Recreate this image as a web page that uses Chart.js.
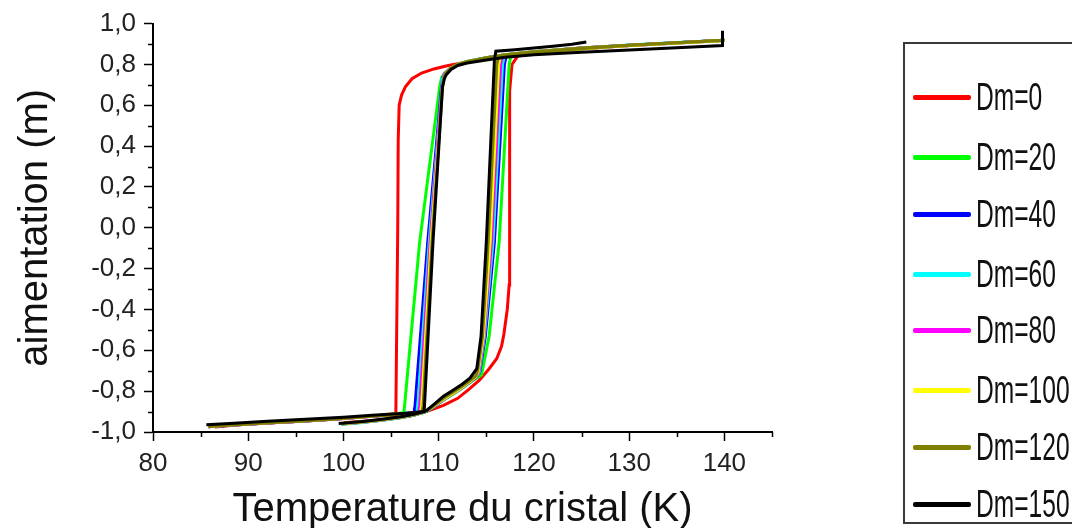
<!DOCTYPE html>
<html>
<head>
<meta charset="utf-8">
<script src="https://cdn.jsdelivr.net/npm/chart.js@4.4.1/dist/chart.umd.min.js"></script>
<style>
  html, body { margin: 0; padding: 0; background: #fff; }
  #wrap { position: relative; width: 1072px; height: 528px; overflow: hidden; }
  #c { position: absolute; left: 0; top: 0; }
  #legend { position: absolute; left: 903px; top: 42px; width: 200px; height: 482px;
            border: 2px solid #3a3a3a; box-sizing: border-box; }
  .item { position: absolute; left: 0; height: 40px; }
  .swatch { position: absolute; left: 8px; width: 58px; height: 5px; border-radius: 2px; }
  .lab { position: absolute; left: 71px; font-family: "Liberation Sans", Arial, sans-serif;
         font-size: 39px; line-height: 40px; color: #111; white-space: nowrap;
         transform: scaleX(0.63); transform-origin: 0 50%; }
</style>
</head>
<body>
<div id="wrap">
  <canvas id="c" width="1072" height="528"></canvas>
  <div id="legend"></div>
</div>
<script>
// ---- axis ticks ----
const xTicks = [80, 90, 100, 110, 120, 130, 140];
const xMinor = [85, 95, 105, 115, 125, 135, 145];
const yTicks = [-1.0, -0.8, -0.6, -0.4, -0.2, 0.0, 0.2, 0.4, 0.6, 0.8, 1.0];
const yMinor = [-0.9, -0.7, -0.5, -0.3, -0.1, 0.1, 0.3, 0.5, 0.7, 0.9];

// ---- series labels and colours ----
const labels = ['Dm=0', 'Dm=20', 'Dm=40', 'Dm=60', 'Dm=80', 'Dm=100', 'Dm=120', 'Dm=150'];
const colors = ['#ff0000', '#00ff00', '#0000ff', '#00ffff', '#ff00ff', '#ffff00', '#808000', '#000000'];

// ---- Dm=0 ----
const coolT0 = [140, 135, 130, 125, 120, 117, 115, 113, 111, 109.5, 108.2, 107.2, 106.5, 106.1, 105.85, 105.75, 105.7, 105.5, 103, 100, 96, 92, 89, 86.5];
const coolM0 = [0.918, 0.906, 0.894, 0.880, 0.862, 0.847, 0.833, 0.812, 0.795, 0.778, 0.758, 0.730, 0.690, 0.650, 0.600, 0.430, 0.000, -0.910, -0.922, -0.934, -0.946, -0.956, -0.965, -0.975];
const heatT0 = [100, 103, 105, 107, 109, 110.5, 112, 113.2, 114.3, 115.3, 116.1, 116.6, 116.85, 117.2, 117.4, 117.45, 117.7, 118.4, 120, 125, 130, 135, 140];
const heatM0 = [-0.955, -0.945, -0.935, -0.922, -0.895, -0.870, -0.835, -0.790, -0.745, -0.690, -0.640, -0.580, -0.520, -0.400, -0.280, 0.670, 0.800, 0.848, 0.857, 0.877, 0.893, 0.906, 0.918];

// ---- Dm=20 ----
const coolT20 = [140, 135, 130, 125, 120, 117, 115, 113, 112, 111.2, 110.6, 110.3, 110.1, 108.0, 106.4, 106.35, 105, 103, 100, 96, 92, 88.5, 85.8];
const coolM20 = [0.918, 0.906, 0.894, 0.880, 0.862, 0.847, 0.833, 0.815, 0.800, 0.780, 0.755, 0.735, 0.690, -0.070, -0.880, -0.905, -0.915, -0.922, -0.933, -0.945, -0.955, -0.965, -0.973];
const heatT20 = [99.8, 102, 104, 106, 107.5, 108.7, 109.5, 110.5, 111.5, 112.5, 113.3, 114.0, 114.5, 115.3, 116.35, 117.4, 117.6, 120, 125, 130, 135, 140];
const heatM20 = [-0.962, -0.953, -0.943, -0.930, -0.917, -0.900, -0.878, -0.845, -0.815, -0.785, -0.758, -0.735, -0.720, -0.530, -0.070, 0.800, 0.845, 0.858, 0.878, 0.894, 0.906, 0.918];

// ---- Dm=40 ----
const coolT40 = [140, 135, 130, 125, 120, 117, 115, 113, 112, 111.2, 110.6, 110.4, 110.3, 108.85, 107.5, 107.45, 105, 103, 100, 96, 92, 88.5, 85.8];
const coolM40 = [0.917, 0.905, 0.893, 0.879, 0.861, 0.846, 0.832, 0.814, 0.799, 0.779, 0.754, 0.735, 0.690, -0.070, -0.880, -0.905, -0.917, -0.923, -0.934, -0.946, -0.956, -0.966, -0.974];
const heatT40 = [99.8, 102, 104, 106, 107.5, 108.7, 109.5, 110.5, 111.5, 112.5, 113.3, 113.9, 114.3, 114.9, 115.85, 116.9, 117.1, 120, 125, 130, 135, 140];
const heatM40 = [-0.961, -0.952, -0.942, -0.929, -0.916, -0.899, -0.876, -0.842, -0.812, -0.782, -0.755, -0.732, -0.710, -0.530, -0.070, 0.800, 0.843, 0.857, 0.877, 0.893, 0.905, 0.917];

// ---- Dm=60 ----
const coolT60 = [140, 135, 130, 125, 120, 117, 115, 113, 112, 111.2, 110.6, 110.45, 110.35, 109.0, 107.8, 107.75, 105, 103, 100, 96, 92, 88.5, 85.8];
const coolM60 = [0.919, 0.907, 0.895, 0.881, 0.862, 0.847, 0.833, 0.815, 0.800, 0.780, 0.755, 0.735, 0.690, -0.070, -0.880, -0.905, -0.916, -0.922, -0.933, -0.945, -0.955, -0.965, -0.973];
const heatT60 = [99.8, 102, 104, 106, 107.5, 108.7, 109.5, 110.5, 111.5, 112.5, 113.3, 113.9, 114.25, 114.8, 115.7, 116.7, 116.9, 120, 125, 130, 135, 140];
const heatM60 = [-0.961, -0.952, -0.942, -0.929, -0.915, -0.898, -0.875, -0.842, -0.812, -0.782, -0.754, -0.731, -0.710, -0.530, -0.070, 0.800, 0.842, 0.858, 0.878, 0.894, 0.906, 0.919];

// ---- Dm=80 ----
const coolT80 = [140, 135, 130, 125, 120, 117, 115, 113, 112, 111.2, 110.6, 110.5, 110.35, 109.1, 108.0, 107.95, 105, 103, 100, 96, 92, 88.5, 85.8];
const coolM80 = [0.918, 0.906, 0.894, 0.880, 0.861, 0.846, 0.832, 0.814, 0.799, 0.779, 0.754, 0.735, 0.690, -0.070, -0.880, -0.905, -0.917, -0.923, -0.934, -0.946, -0.956, -0.966, -0.974];
const heatT80 = [99.8, 102, 104, 106, 107.5, 108.7, 109.5, 110.5, 111.5, 112.5, 113.3, 113.9, 114.2, 114.75, 115.55, 116.5, 116.7, 120, 125, 130, 135, 140];
const heatM80 = [-0.960, -0.951, -0.941, -0.928, -0.914, -0.897, -0.874, -0.841, -0.811, -0.781, -0.753, -0.730, -0.710, -0.530, -0.070, 0.800, 0.841, 0.857, 0.877, 0.893, 0.905, 0.918];

// ---- Dm=100 ----
const coolT100 = [140, 135, 130, 125, 120, 117, 115, 113, 112, 111.2, 110.7, 110.55, 110.4, 109.2, 108.2, 108.15, 105, 103, 100, 96, 92, 88.5, 85.8];
const coolM100 = [0.917, 0.905, 0.893, 0.879, 0.861, 0.846, 0.832, 0.814, 0.799, 0.779, 0.754, 0.735, 0.690, -0.070, -0.880, -0.905, -0.916, -0.922, -0.933, -0.945, -0.955, -0.965, -0.973];
const heatT100 = [99.8, 102, 104, 106, 107.5, 108.7, 109.5, 110.5, 111.5, 112.5, 113.3, 113.9, 114.15, 114.7, 115.4, 116.3, 116.5, 120, 125, 130, 135, 140];
const heatM100 = [-0.960, -0.951, -0.941, -0.928, -0.914, -0.897, -0.873, -0.840, -0.810, -0.780, -0.752, -0.729, -0.705, -0.530, -0.070, 0.800, 0.840, 0.856, 0.876, 0.893, 0.905, 0.917];

// ---- Dm=120 ----
const coolT120 = [140, 135, 130, 125, 120, 117, 115, 113, 112, 111.2, 110.7, 110.55, 110.4, 109.3, 108.35, 108.3, 105, 103, 100, 96, 92, 88.5, 85.8];
const coolM120 = [0.918, 0.906, 0.894, 0.880, 0.862, 0.847, 0.833, 0.815, 0.800, 0.780, 0.755, 0.735, 0.690, -0.070, -0.880, -0.905, -0.917, -0.923, -0.934, -0.946, -0.956, -0.966, -0.974];
const heatT120 = [99.8, 102, 104, 106, 107.5, 108.7, 109.5, 110.5, 111.5, 112.5, 113.3, 113.9, 114.1, 114.6, 115.2, 116.1, 116.3, 120, 125, 130, 135, 140];
const heatM120 = [-0.959, -0.950, -0.940, -0.927, -0.913, -0.896, -0.870, -0.835, -0.805, -0.775, -0.748, -0.725, -0.700, -0.530, -0.070, 0.800, 0.840, 0.857, 0.877, 0.894, 0.906, 0.918];

// ---- Dm=150 ----
const coolT150 = [139.8, 139.8, 135, 130, 125, 120, 117, 115, 113, 112, 111.3, 110.8, 110.6, 110.4, 109.4, 108.5, 108.45, 106, 103, 100, 96, 92, 88.5, 85.6];
const coolM150 = [0.965, 0.893, 0.882, 0.871, 0.860, 0.848, 0.835, 0.822, 0.807, 0.795, 0.775, 0.750, 0.730, 0.690, -0.070, -0.880, -0.900, -0.910, -0.918, -0.928, -0.938, -0.947, -0.957, -0.965];
const heatT150 = [99.5, 102, 104, 106, 107.5, 108.7, 109.5, 110.5, 111.5, 112.5, 113.3, 114.0, 114.45, 115.0, 115.85, 116.0, 118, 120, 122, 124, 125.5];
const heatM150 = [-0.958, -0.948, -0.938, -0.925, -0.912, -0.895, -0.865, -0.825, -0.795, -0.765, -0.735, -0.690, -0.530, -0.070, 0.820, 0.865, 0.872, 0.880, 0.889, 0.899, 0.910];

const coolT = [coolT0, coolT20, coolT40, coolT60, coolT80, coolT100, coolT120, coolT150];
const coolM = [coolM0, coolM20, coolM40, coolM60, coolM80, coolM100, coolM120, coolM150];
const heatT = [heatT0, heatT20, heatT40, heatT60, heatT80, heatT100, heatT120, heatT150];
const heatM = [heatM0, heatM20, heatM40, heatM60, heatM80, heatM100, heatM120, heatM150];

const FONT = '"Liberation Sans", Arial, sans-serif';

function pts(T, M) { return T.map((t, i) => ({ x: t, y: M[i] })); }

const datasets = [];
labels.forEach((lab, i) => {
  const common = {
    borderColor: colors[i], backgroundColor: colors[i], borderWidth: 3,
    pointRadius: 0, showLine: true, tension: 0, fill: false,
    order: labels.length - 1 - i
  };
  datasets.push(Object.assign({ label: lab, data: pts(coolT[i], coolM[i]) }, common));
  datasets.push(Object.assign({ label: lab + ' (heat)', data: pts(heatT[i], heatM[i]) }, common));
});

const fmtY = v => (Math.abs(v) < 1e-9 ? 0 : v).toFixed(1).replace('.', ',');

const minorTicks = {
  id: 'minorTicks',
  afterDraw(chart) {
    const ctx = chart.ctx, xs = chart.scales.x, ys = chart.scales.y;
    ctx.save();
    ctx.strokeStyle = '#000';
    ctx.lineWidth = 1.5;
    xMinor.forEach(v => {
      const px = Math.round(xs.getPixelForValue(v)) + 0.5;
      ctx.beginPath(); ctx.moveTo(px, ys.bottom); ctx.lineTo(px, ys.bottom + 5); ctx.stroke();
    });
    yMinor.forEach(v => {
      const py = Math.round(ys.getPixelForValue(v)) + 0.5;
      ctx.beginPath(); ctx.moveTo(xs.left, py); ctx.lineTo(xs.left - 5, py); ctx.stroke();
    });
    ctx.restore();
  }
};

new Chart(document.getElementById('c'), {
  type: 'scatter',
  data: { datasets },
  plugins: [minorTicks],
  options: {
    responsive: false,
    animation: false,
    layout: { padding: { left: 0, top: 21, right: 300, bottom: 0 } },
    plugins: { legend: { display: false }, tooltip: { enabled: false } },
    scales: {
      x: {
        type: 'linear', min: 80, max: 145,
        afterBuildTicks: s => { s.ticks = xTicks.map(v => ({ value: v })); },
        afterFit: s => { s.height = 96; },
        grid: { display: true, drawOnChartArea: false, drawTicks: true, tickLength: 9, tickColor: '#000', tickWidth: 1.5 },
        border: { display: true, color: '#000', width: 2 },
        ticks: { font: { family: FONT, size: 26 }, color: '#222', padding: 7, maxRotation: 0, autoSkip: false,
                 callback: v => String(v) },
        title: { display: true, text: 'Temperature du cristal (K)', color: '#111',
                 font: { family: FONT, size: 40 }, padding: { top: 0, bottom: -6 } }
      },
      y: {
        type: 'linear', min: -1, max: 1,
        afterBuildTicks: s => { s.ticks = yTicks.map(v => ({ value: v })); },
        afterFit: s => { s.width = 153; },
        grid: { display: true, drawOnChartArea: false, drawTicks: true, tickLength: 9, tickColor: '#000', tickWidth: 1.5 },
        border: { display: true, color: '#000', width: 2 },
        ticks: { font: { family: FONT, size: 26 }, color: '#222', padding: 8, autoSkip: false,
                 callback: v => fmtY(v) },
        title: { display: true, text: 'aimentation (m)', color: '#111',
                 font: { family: FONT, size: 40 }, padding: { top: 12, bottom: 0 } }
      }
    }
  }
});

// ---- HTML legend built from the same arrays ----
const legendCenters = [53, 113, 170, 230, 286, 346, 403, 460];
const lg = document.getElementById('legend');
labels.forEach((lab, i) => {
  const it = document.createElement('div');
  it.className = 'item';
  it.style.top = (legendCenters[i] - 20) + 'px';
  const sw = document.createElement('div');
  sw.className = 'swatch';
  sw.style.top = '18px';
  sw.style.background = colors[i];
  const tx = document.createElement('div');
  tx.className = 'lab';
  tx.style.top = '0px';
  tx.textContent = lab;
  it.appendChild(sw); it.appendChild(tx);
  lg.appendChild(it);
});
</script>
</body>
</html>
